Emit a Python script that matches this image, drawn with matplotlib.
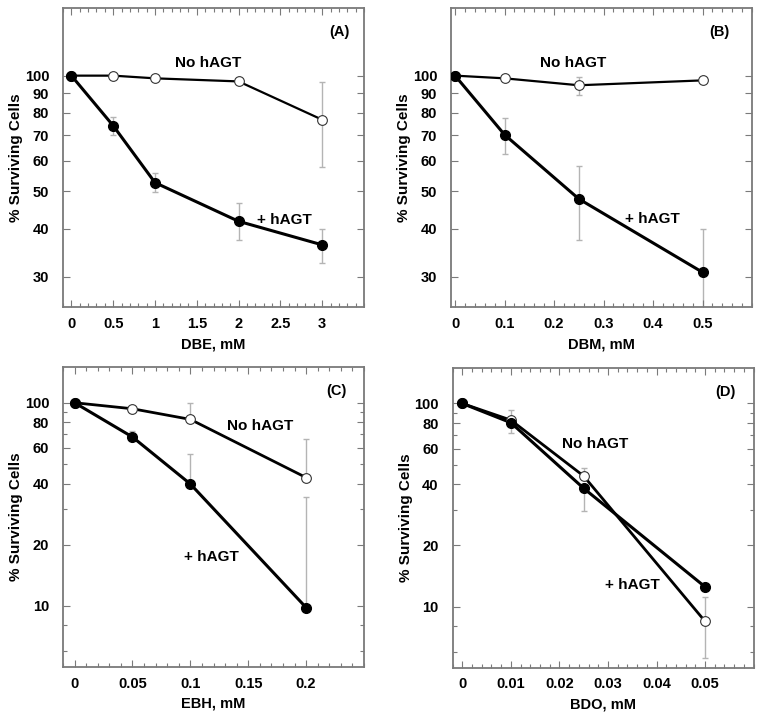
import matplotlib
matplotlib.use("Agg")
import matplotlib.pyplot as plt
from matplotlib.ticker import FixedLocator, NullFormatter, AutoMinorLocator

plt.rcParams['font.family'] = ['Liberation Sans', 'DejaVu Sans']
plt.rcParams['font.weight'] = 'bold'
plt.rcParams['font.size'] = 10

# ---- data ----
# (A) DBE
dbe_x = [0, 0.5, 1, 2, 3]
dbe_no = [100, 100, 98.4, 96.6, 76.8]
dbe_no_hi = [0, 0, 0, 0, 19.2]
dbe_no_lo = [0, 0, 0, 0, 18.8]
dbe_plus = [100, 74.1, 52.7, 41.8, 36.3]
dbe_plus_hi = [0, 3.9, 3.1, 4.8, 3.5]
dbe_plus_lo = [0, 4.1, 3.0, 4.5, 3.7]

# (B) DBM
dbm_x = [0, 0.1, 0.25, 0.5]
dbm_no = [100, 98.4, 94.4, 97.2]
dbm_no_hi = [0, 0, 4.8, 0]
dbm_no_lo = [0, 0, 5.2, 0]
dbm_plus = [100, 70.2, 47.8, 30.8]
dbm_plus_hi = [0, 7.4, 10.5, 9.2]
dbm_plus_lo = [0, 7.5, 10.5, 9.2]

# (C) EBH
ebh_x = [0, 0.05, 0.1, 0.2]
ebh_no = [100, 93.4, 82.8, 42.8]
ebh_no_hi = [0, 0, 16.4, 23.7]
ebh_no_lo = [0, 0, 0, 0]
ebh_plus = [100, 67.8, 39.8, 9.8]
ebh_plus_hi = [0, 4.8, 15.9, 24.6]
ebh_plus_lo = [0, 0, 0, 0]

# (D) BDO
bdo_x = [0, 0.01, 0.025, 0.05]
bdo_no = [100, 82.8, 43.9, 8.45]
bdo_no_hi = [0, 9.9, 4.0, 2.65]
bdo_no_lo = [0, 0, 0, 2.85]
bdo_plus = [100, 80.4, 38.2, 12.5]
bdo_plus_hi = [0, 0, 0, 0]
bdo_plus_lo = [0, 9.2, 8.7, 0]

ticks_ab = [30, 40, 50, 60, 70, 80, 90, 100]
ticks_cd = [10, 20, 40, 60, 80, 100]
minor_cd = [6, 8, 30, 50, 70, 90]

SPINE = '#7a7a7a'
ERR = '#b4b4b4'


def draw_panel(ax, x, no, no_err, plus, plus_err, xticks, xlabel, xlim, ylim,
               yticks, yminor, tag, tag_pos, no_pos, plus_pos, no_lw=2.0):
    ax.set_yscale('log')
    ax.errorbar(x, no, yerr=no_err, fmt='none', ecolor=ERR, elinewidth=1,
                capsize=2.5, capthick=1, zorder=1)
    ax.errorbar(x, plus, yerr=plus_err, fmt='none', ecolor=ERR, elinewidth=1,
                capsize=2.5, capthick=1, zorder=1)
    ax.plot(x, no, color='black', lw=no_lw, zorder=2)
    ax.plot(x, plus, color='black', lw=2.2, zorder=2)
    ax.plot(x, no, 'o', ms=7, mfc='white', mec='#333333', mew=0.8, zorder=3)
    ax.plot(x, plus, 'o', ms=7, mfc='black', mec='black', zorder=3)

    ax.set_xlim(*xlim)
    ax.set_ylim(*ylim)
    ax.set_xticks(xticks)
    ax.set_xticklabels([f'{t:g}' for t in xticks])
    ax.xaxis.set_minor_locator(AutoMinorLocator(5))
    ax.yaxis.set_major_locator(FixedLocator(yticks))
    ax.yaxis.set_ticklabels([str(t) for t in yticks])
    ax.yaxis.set_minor_locator(FixedLocator(yminor))
    ax.yaxis.set_minor_formatter(NullFormatter())

    ax.tick_params(which='both', direction='in', top=True, right=True,
                   color=SPINE, width=0.8)
    ax.tick_params(which='major', length=5)
    ax.tick_params(which='minor', length=3)
    ax.tick_params(axis='y', pad=10, labelsize=10.5)
    ax.tick_params(axis='x', pad=7, labelsize=10.5)
    for s in ax.spines.values():
        s.set_color(SPINE)
        s.set_linewidth(1.3)

    ax.set_xlabel(xlabel, fontsize=10.5, fontweight='bold')
    ax.set_ylabel('% Surviving Cells', fontsize=11, fontweight='bold')
    ax.xaxis.set_label_coords(0.5, -0.10)
    ax.yaxis.set_label_coords(-0.133, 0.5)
    ax.text(tag_pos[0], tag_pos[1], tag, transform=ax.transAxes, ha='center',
            va='center', fontsize=10.5, fontweight='bold')
    ax.text(no_pos[0], no_pos[1], 'No hAGT', ha='center', va='center',
            fontsize=11, fontweight='bold')
    ax.text(plus_pos[0], plus_pos[1], '+ hAGT', ha='center', va='center',
            fontsize=11, fontweight='bold')


fig = plt.figure(figsize=(7.62, 7.21), dpi=100)
ax_a = fig.add_axes([0.0827, 0.574, 0.395, 0.415])
ax_b = fig.add_axes([0.592, 0.574, 0.395, 0.415])
ax_c = fig.add_axes([0.0827, 0.075, 0.395, 0.416])
ax_d = fig.add_axes([0.594, 0.074, 0.395, 0.416])

draw_panel(ax_a, dbe_x, dbe_no, [dbe_no_lo, dbe_no_hi], dbe_plus,
           [dbe_plus_lo, dbe_plus_hi], [0, 0.5, 1, 1.5, 2, 2.5, 3], 'DBE, mM',
           (-0.1, 3.5), (25, 150), ticks_ab, [], '(A)', (0.92, 0.92),
           (1.63, 108), (2.55, 42.2), no_lw=1.6)
draw_panel(ax_b, dbm_x, dbm_no, [dbm_no_lo, dbm_no_hi], dbm_plus,
           [dbm_plus_lo, dbm_plus_hi], [0, 0.1, 0.2, 0.3, 0.4, 0.5], 'DBM, mM',
           (-0.008, 0.6), (25, 150), ticks_ab, [], '(B)', (0.89, 0.92),
           (0.238, 108), (0.398, 42.4), no_lw=1.6)
draw_panel(ax_c, ebh_x, ebh_no, [ebh_no_lo, ebh_no_hi], ebh_plus,
           [ebh_plus_lo, ebh_plus_hi], [0, 0.05, 0.1, 0.15, 0.2], 'EBH, mM',
           (-0.01, 0.25), (5, 150), ticks_cd, minor_cd, '(C)', (0.91, 0.92),
           (0.16, 76.5), (0.118, 17.3))
draw_panel(ax_d, bdo_x, bdo_no, [bdo_no_lo, bdo_no_hi], bdo_plus,
           [bdo_plus_lo, bdo_plus_hi], [0, 0.01, 0.02, 0.03, 0.04, 0.05], 'BDO, mM',
           (-0.002, 0.06), (5, 150), ticks_cd, minor_cd, '(D)', (0.907, 0.92),
           (0.0273, 63), (0.035, 12.7))

fig.savefig('out.png', dpi=100)
